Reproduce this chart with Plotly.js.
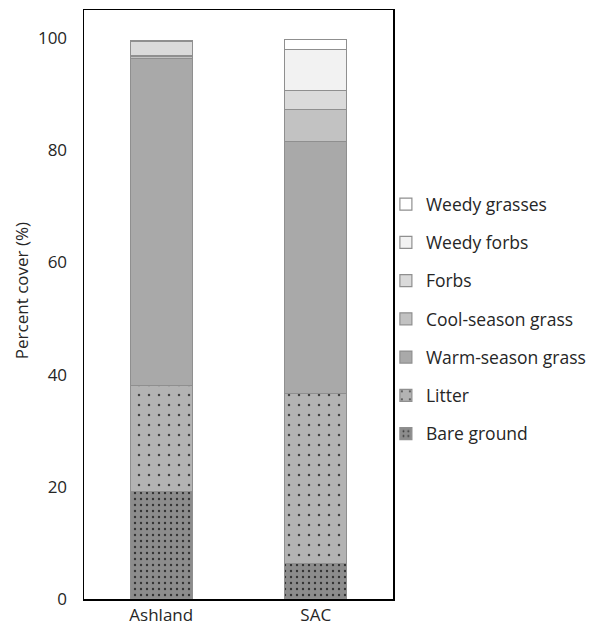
<!DOCTYPE html>
<html>
<head>
<meta charset="utf-8">
<script src="https://cdn.plot.ly/plotly-3.0.1.min.js"></script>
<style>html,body{margin:0;padding:0;background:#fff;}#chart{width:589px;height:626px;}</style>
</head>
<body>
<div id="chart"></div>
<script>
const sites = ["Ashland", "SAC"];
const bareGround = [19.1, 6.4];
const litter = [18.9, 30.3];
const warmSeasonGrass = [58.4, 44.9];
const coolSeasonGrass = [0.4, 5.6];
const forbs = [2.6, 3.5];
const weedyForbs = [0.1, 7.3];
const weedyGrasses = [0.1, 1.8];
const yTicks = [0, 20, 40, 60, 80, 100];
const yTitle = "Percent cover (%)";

const outline = {color: "#8f8f8f", width: 1.2};
function bar(name, vals, color, rank, pattern) {
  const m = {color: color, line: outline};
  if (pattern) m.pattern = pattern;
  return {type: "bar", name: name, x: sites, y: vals, marker: m,
          legendgroup: name, legendrank: rank, hoverinfo: "none"};
}
const traces = [
  bar("Bare ground", bareGround, "#8c8c8c", 7, {shape: ".", fgcolor: "#333333", bgcolor: "#8c8c8c", size: 6, solidity: 0.12}),
  bar("Litter", litter, "#b3b3b3", 6, {shape: ".", fgcolor: "#444444", bgcolor: "#b3b3b3", size: 10, solidity: 0.05}),
  bar("Warm-season grass", warmSeasonGrass, "#a9a9a9", 5),
  bar("Cool-season grass", coolSeasonGrass, "#c2c2c2", 4),
  bar("Forbs", forbs, "#dadada", 3),
  bar("Weedy forbs", weedyForbs, "#f2f2f2", 2),
  bar("Weedy grasses", weedyGrasses, "#ffffff", 1)
];

const layout = {
  width: 589, height: 626,
  margin: {l: 84, r: 196, t: 10, b: 27, autoexpand: false},
  barmode: "stack",
  bargap: 0.6,
  paper_bgcolor: "#fff", plot_bgcolor: "#fff",
  font: {family: "Open Sans, Liberation Sans, Arial, sans-serif", size: 17, color: "#262626"},
  showlegend: true,
  legend: {
    x: 0.977, xanchor: "left", y: 0.475, yanchor: "middle",
    bgcolor: "rgba(0,0,0,0)",
    traceorder: "grouped", tracegroupgap: 12.5,
    font: {size: 17.5, color: "#262626"},
    itemwidth: 30
  },
  xaxis: {
    showline: true, linecolor: "#000", linewidth: 1.5, mirror: true,
    ticks: "", showgrid: false, tickfont: {size: 17}
  },
  yaxis: {
    range: [0, 105], tickvals: yTicks, ticktext: yTicks.map(String),
    showline: true, linecolor: "#000", linewidth: 1.5, mirror: true,
    ticks: "", showgrid: false, zeroline: false, ticklabelstandoff: 12,
    tickfont: {size: 17}
  },
  annotations: [{
    text: yTitle, textangle: -90, showarrow: false,
    xref: "paper", yref: "paper", x: -0.2, y: 0.523,
    xanchor: "center", yanchor: "middle",
    font: {size: 17, color: "#262626"}
  }]
};
Plotly.newPlot("chart", traces, layout, {displayModeBar: false, staticPlot: true});
</script>
</body>
</html>
